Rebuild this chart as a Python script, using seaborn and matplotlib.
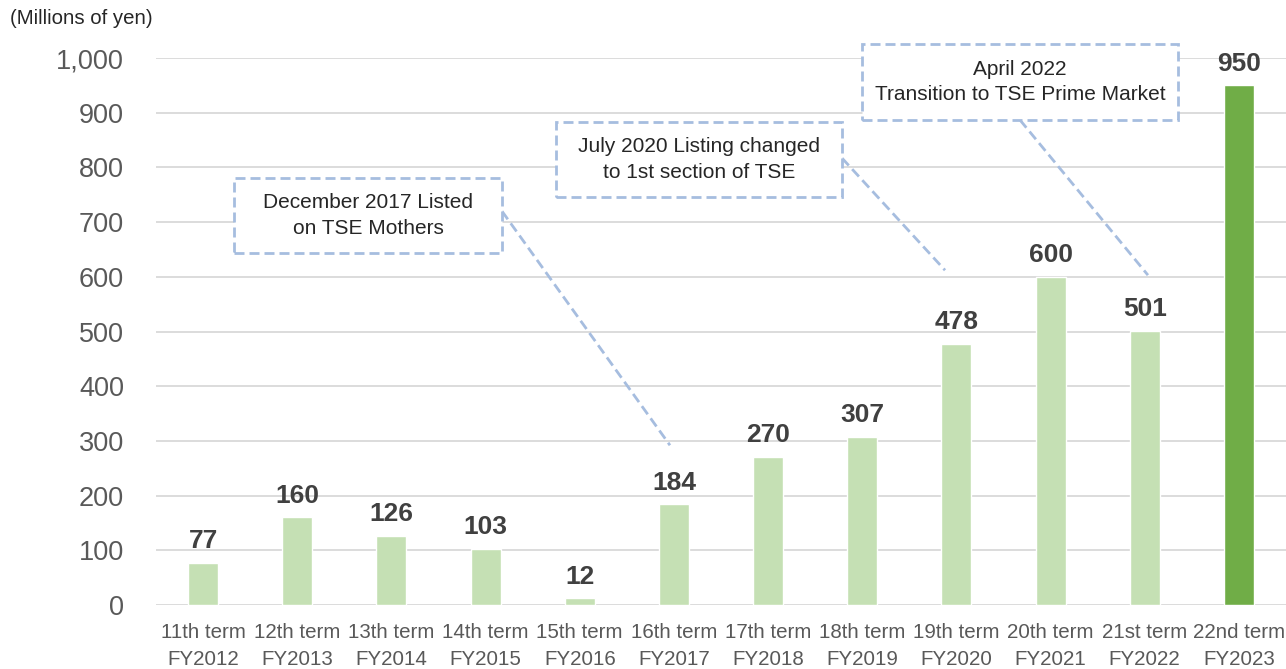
import matplotlib
matplotlib.use("Agg")
import matplotlib.pyplot as plt
import seaborn as sns
import pandas as pd
from matplotlib.patches import Rectangle

terms = ["11th term", "12th term", "13th term", "14th term", "15th term", "16th term",
         "17th term", "18th term", "19th term", "20th term", "21st term", "22nd term"]
years = ["FY2012", "FY2013", "FY2014", "FY2015", "FY2016", "FY2017",
         "FY2018", "FY2019", "FY2020", "FY2021", "FY2022", "FY2023"]
values = [77, 160, 126, 103, 12, 184, 270, 307, 478, 600, 501, 950]
unit_label = "(Millions of yen)"
notes = ["December 2017 Listed\non TSE Mothers",
         "July 2020 Listing changed\nto 1st section of TSE",
         "April 2022\nTransition to TSE Prime Market"]

sns.set_theme(style="white")
plt.rcParams["font.family"] = ["Liberation Sans", "DejaVu Sans"]

labels = [f"{t}\n{y}" for t, y in zip(terms, years)]
df = pd.DataFrame({"label": labels, "value": values})
light, dark = "#C5E0B4", "#70AD47"
colors = [light] * (len(values) - 1) + [dark]

W, H = 1286, 669
fig = plt.figure(figsize=(W / 100, H / 100), dpi=100)
ax = fig.add_axes([156 / W, 64 / H, 1130 / W, 547 / H])

sns.barplot(data=df, x="label", y="value", hue="label", palette=colors,
            legend=False, width=0.32, ax=ax, saturation=1, zorder=3)

ax.set_ylim(0, 1000)
ax.set_xlim(-0.5, len(values) - 0.5)
ax.set_yticks(range(0, 1001, 100))
ax.set_yticklabels([f"{v:,}" for v in range(0, 1001, 100)])
ax.yaxis.grid(True, color="#D9D9D9", linewidth=1.3, zorder=0)
ax.set_axisbelow(True)
for s in ax.spines.values():
    s.set_visible(False)
ax.set_xlabel("")
ax.set_ylabel("")
ax.tick_params(axis="y", length=0, pad=23, labelsize=19.5, labelcolor="#595959")
ax.tick_params(axis="x", length=0, pad=13, labelsize=14.8, labelcolor="#595959")
for t in ax.get_xticklabels():
    t.set_linespacing(1.5)

for i, v in enumerate(values):
    ax.text(i, v + 18, f"{v}", ha="center", va="bottom", fontsize=19,
            fontweight="bold", color="#404040", clip_on=False, zorder=5)

fig.text(10 / W, 1 - 19 / H, unit_label, ha="left", va="center",
         fontsize=14.7, color="#262626")

box_color = "#A6BDDF"
boxes = [(0.328, 643.5, 3.174, 780.6),
         (3.748, 746, 6.785, 883),
         (6.997, 886.7, 10.353, 1025.6)]
leaders = [((3.174, 720), (4.958, 292)),
           ((6.785, 817), (7.879, 612)),
           ((8.675, 886.7), (10.034, 603))]
for (x0, y0, x1, y1), note, (p0, p1) in zip(boxes, notes, leaders):
    ax.add_patch(Rectangle((x0, y0), x1 - x0, y1 - y0, fill=True, facecolor="white",
                           edgecolor=box_color, linewidth=2,
                           linestyle=(0, (3.6, 1.8)), clip_on=False, zorder=6))
    ax.text((x0 + x1) / 2, (y0 + y1) / 2, note, ha="center", va="center",
            fontsize=15, color="#262626", linespacing=1.45, zorder=7, clip_on=False)
    ax.plot([p0[0], p1[0]], [p0[1], p1[1]], color=box_color, linewidth=2,
            linestyle=(0, (3.6, 1.8)), clip_on=False, zorder=4)

fig.savefig("out.png", dpi=100, facecolor="white")
